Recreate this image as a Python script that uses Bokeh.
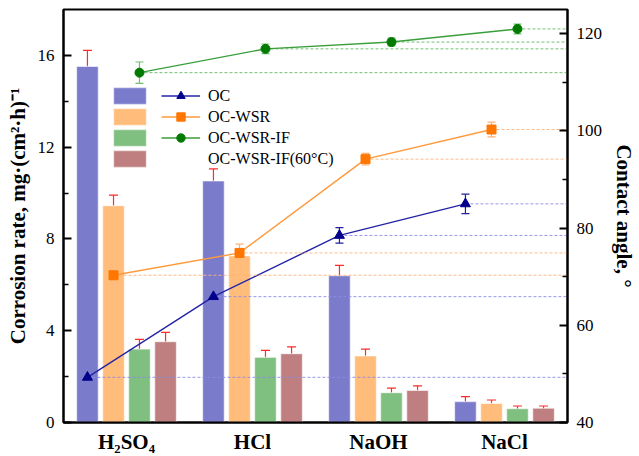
from bokeh.plotting import figure
from bokeh.models import (Range1d, LinearAxis, FixedTicker, ColumnDataSource, Whisker,
                          TeeHead, Legend, LegendItem)
from bokeh.embed import file_html
from bokeh.resources import INLINE

# ---------------- data ----------------
categories = ["H₂SO₄", "HCl", "NaOH", "NaCl"]
series = ["OC", "OC-WSR", "OC-WSR-IF", "OC-WSR-IF(60°C)"]

# corrosion rate, mg·(cm²·h)⁻¹ (bars, left axis)
rate_oc = [15.52, 10.53, 6.40, 0.91]
rate_oc_err = [0.70, 0.52, 0.45, 0.22]
rate_wsr = [9.45, 7.26, 2.90, 0.83]
rate_wsr_err = [0.46, 0.30, 0.30, 0.15]
rate_if = [3.20, 2.84, 1.30, 0.60]
rate_if_err = [0.42, 0.30, 0.20, 0.12]
rate_if60 = [3.52, 3.00, 1.40, 0.62]
rate_if60_err = [0.41, 0.30, 0.20, 0.10]

# contact angle, ° (lines, right axis)
angle_oc = [49.3, 65.9, 78.5, 85.0]
angle_oc_err = [2.3, 2.0, 1.6, 2.0]
angle_wsr = [70.3, 74.9, 94.2, 100.3]
angle_wsr_err = [1.4, 1.8, 1.2, 1.5]
angle_if = [112.0, 116.9, 118.3, 121.0]
angle_if_err = [2.2, 1.0, 0.8, 1.0]

left_ticks = [0, 4, 8, 12, 16]
left_minor = [2, 6, 10, 14]
right_ticks = [40, 60, 80, 100, 120]
right_minor = [50, 70, 90, 110]

# ---------------- style ----------------
FONT = "'Liberation Serif', 'Times New Roman', serif"
bar_fill = ["#7b7bcb", "#ffbc7a", "#7fbf7f", "#bf7f80"]
offsets = [-0.31, -0.103, 0.103, 0.31]
bar_w = 0.172
X_START, X_END = 0.5, 4.5

line_col = ["#2424a8", "#ff9a3c", "#3a9e3a"]
mark_col = ["#00008b", "#ff7700", "#007a00"]
err_col = ["#2020a0", "#ffb070", "#70c070"]
dash_col = ["#8c8ce6", "#ffb27a", "#66b866"]
markers = ["triangle", "square", "circle"]
msize = [10, 9, 9]

p = figure(width=639, height=456, x_range=Range1d(X_START, X_END), y_range=Range1d(0, 18),
           output_backend="svg", toolbar_location=None,
           min_border_left=63, min_border_right=63, min_border_top=9, min_border_bottom=33)
p.extra_y_ranges = {"angle": Range1d(40, 125)}
p.grid.visible = False
p.outline_line_color = "black"
p.outline_line_width = 2
p.outline_line_alpha = 1
p.background_fill_color = "white"

# x axis
xa = p.xaxis[0]
xa.ticker = FixedTicker(ticks=[1, 2, 3, 4])
xa.major_label_overrides = {i + 1: c for i, c in enumerate(categories)}
xa.major_tick_line_color = None
xa.minor_tick_line_color = None
xa.axis_line_width = 2
xa.major_label_text_font = FONT
xa.major_label_text_font_style = "bold"
xa.major_label_text_font_size = "21px"
xa.major_label_text_color = "black"
xa.major_label_standoff = 1

# left axis
ya = p.yaxis[0]
ya.ticker = FixedTicker(ticks=left_ticks, minor_ticks=left_minor)
ya.axis_label = "Corrosion rate, mg·(cm²·h)⁻¹"

right = LinearAxis(y_range_name="angle", axis_label="Contact angle, °",
                   ticker=FixedTicker(ticks=right_ticks, minor_ticks=right_minor))
p.add_layout(right, "right")

for ax in (ya, right):
    ax.axis_line_width = 2
    ax.major_tick_in = 8
    ax.major_tick_out = 0
    ax.minor_tick_in = 5
    ax.minor_tick_out = 0
    ax.major_tick_line_width = 2
    ax.minor_tick_line_width = 1.5
    ax.major_label_text_font = FONT
    ax.major_label_text_font_size = "17px"
    ax.major_label_text_color = "black"
    ax.major_label_standoff = 9
    ax.axis_label_text_font = FONT
    ax.axis_label_text_font_style = "bold"
    ax.axis_label_text_font_size = "21px"
    ax.axis_label_text_color = "black"
    ax.axis_label_standoff = 5
right.axis_label_standoff = 7

# ---------------- bars ----------------
rates = [rate_oc, rate_wsr, rate_if, rate_if60]
rate_errs = [rate_oc_err, rate_wsr_err, rate_if_err, rate_if60_err]
bar_renderers = []
for k in range(4):
    xs = [i + 1 + offsets[k] for i in range(len(categories))]
    src = ColumnDataSource(dict(x=xs, top=rates[k],
                                up=[v + e for v, e in zip(rates[k], rate_errs[k])],
                                lo=[v - e for v, e in zip(rates[k], rate_errs[k])]))
    r = p.vbar(x="x", top="top", bottom=0, width=bar_w, source=src,
               fill_color=bar_fill[k], line_color="white", line_alpha=0.55, line_width=1.2)
    bar_renderers.append(r)
    p.add_layout(Whisker(base="x", upper="up", lower="lo", source=src,
                         line_color="#ff2a2a", line_width=1.2,
                         upper_head=TeeHead(size=9, line_color="#ff2a2a", line_width=1.2),
                         lower_head=TeeHead(size=9, line_color="#ff2a2a", line_width=1.2)))

# ---------------- lines ----------------
angles = [angle_oc, angle_wsr, angle_if]
angle_errs = [angle_oc_err, angle_wsr_err, angle_if_err]
line_items = []
for k in range(3):
    xs = [i + 1 + offsets[k] for i in range(len(categories))]
    src = ColumnDataSource(dict(x=xs, y=angles[k], xe=[X_END] * len(xs),
                                up=[v + e for v, e in zip(angles[k], angle_errs[k])],
                                lo=[v - e for v, e in zip(angles[k], angle_errs[k])]))
    p.segment(x0="x", y0="y", x1="xe", y1="y", source=src, y_range_name="angle",
              line_color=dash_col[k], line_width=1, line_dash="3 2", line_alpha=0.9)
    lr = p.line(x="x", y="y", source=src, y_range_name="angle",
                line_color=line_col[k], line_width=1.4)
    p.add_layout(Whisker(base="x", upper="up", lower="lo", source=src, y_range_name="angle",
                         line_color=err_col[k], line_width=1.2,
                         upper_head=TeeHead(size=8, line_color=err_col[k], line_width=1.2),
                         lower_head=TeeHead(size=8, line_color=err_col[k], line_width=1.2)))
    mr = p.scatter(x="x", y="y", source=src, y_range_name="angle", marker=markers[k],
                   size=msize[k], fill_color=mark_col[k], line_color=mark_col[k])
    line_items.append((lr, mr))

dummy = p.line(x=[1, 1], y=[-5, -5], line_alpha=0)

# ---------------- legends ----------------
leg_bars = Legend(items=[LegendItem(label=" ", renderers=[r]) for r in bar_renderers],
                  location=(46, 253), glyph_width=41, glyph_height=21, spacing=0,
                  padding=0, margin=0, label_text_font_size="1px", label_width=0,
                  label_standoff=0, label_height=21, background_fill_alpha=0,
                  border_line_color=None)
items2 = [LegendItem(label=series[k], renderers=list(line_items[k])) for k in range(3)]
items2.append(LegendItem(label=series[3], renderers=[dummy]))
leg_lines = Legend(items=items2, location=(98, 253), glyph_width=39, glyph_height=21,
                   spacing=0, padding=0, margin=0, label_text_font=FONT,
                   label_text_font_size="16px", label_text_color="black",
                   label_standoff=8, label_height=21, background_fill_alpha=0,
                   border_line_color=None)
p.add_layout(leg_bars, "center")
p.add_layout(leg_lines, "center")

open("out.html", "w").write(file_html(p, INLINE))
